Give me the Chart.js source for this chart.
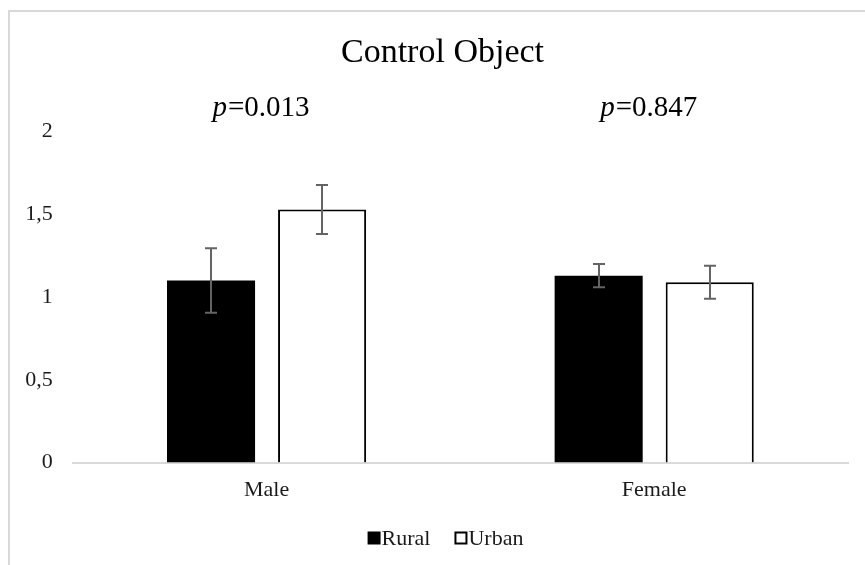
<!DOCTYPE html>
<html><head><meta charset="utf-8">
<script src="https://cdn.jsdelivr.net/npm/chart.js@4/dist/chart.umd.min.js"></script>
<style>
html,body{margin:0;padding:0;background:#fff;overflow:hidden;width:865px;height:565px;}
#frame{position:absolute;left:8px;top:10px;width:857px;height:555px;border-left:2px solid #d9d9d9;border-top:2px solid #d9d9d9;box-sizing:border-box;}
#wrap{position:absolute;left:0;top:0;width:865px;height:565px;}
</style></head><body>
<div id="frame"></div>
<div id="wrap"><canvas id="c" width="865" height="565"></canvas></div>
<script>
const categories = ['Male', 'Female'];
const seriesNames = ['Rural', 'Urban'];
const ruralValues = [1.10, 1.13];
const urbanValues = [1.53, 1.09];
const ruralErrors = [0.195, 0.07];
const urbanErrors = [0.148, 0.10];
const pValues = ['0.013', '0.847'];
const yTickLabels = ['0', '0,5', '1', '1,5', '2'];
const chartTitle = 'Control Object';

const SERIF = "'Liberation Serif', 'Times New Roman', serif";

const errorBarPlugin = {
  id: 'errorBars',
  afterDatasetsDraw(chart) {
    const ctx = chart.ctx;
    const y = chart.scales.y;
    ctx.save();
    ctx.strokeStyle = '#646464';
    ctx.lineWidth = 2;
    chart.data.datasets.forEach((ds, di) => {
      const meta = chart.getDatasetMeta(di);
      meta.data.forEach((bar, i) => {
        const v = ds.data[i], e = ds.errors[i];
        const yt = y.getPixelForValue(v + e);
        const yb = y.getPixelForValue(v - e);
        const x = Math.round(bar.x);
        ctx.beginPath();
        ctx.moveTo(x, yt); ctx.lineTo(x, yb);
        ctx.moveTo(x - 6, yt); ctx.lineTo(x + 6, yt);
        ctx.moveTo(x - 6, yb); ctx.lineTo(x + 6, yb);
        ctx.stroke();
      });
    });
    ctx.restore();
  }
};

const annotPlugin = {
  id: 'annot',
  afterDraw(chart) {
    const ctx = chart.ctx;
    const xs = chart.scales.x, ys = chart.scales.y;
    const titleCenter = chart.width / 2 + 10;
    ctx.save();
    // title
    ctx.fillStyle = '#000';
    ctx.font = '34px ' + SERIF;
    ctx.textAlign = 'center';
    ctx.textBaseline = 'alphabetic';
    ctx.fillText(chartTitle, titleCenter, ys.getPixelForValue(2) - 70);
    // p-values
    const fItal = 'italic 29px ' + SERIF;
    const fReg = '29px ' + SERIF;
    ctx.textAlign = 'left';
    categories.forEach((c, i) => {
      const cx = xs.getPixelForValue(i) - 6;
      const by = ys.getPixelForValue(2) - 16;
      ctx.font = fItal; const w1 = ctx.measureText('p').width;
      ctx.font = fReg; const w2 = ctx.measureText('=' + pValues[i]).width;
      const x0 = cx - (w1 + w2) / 2;
      ctx.font = fItal; ctx.fillText('p', x0, by);
      ctx.font = fReg; ctx.fillText('=' + pValues[i], x0 + w1 + 1, by);
    });
    // legend
    const ly = 538;
    ctx.font = '22px ' + SERIF;
    const box = 13, gapT = 1, gapI = 24;
    const widths = chart.data.datasets.map(d => box + gapT + ctx.measureText(d.label).width);
    const total = widths.reduce((a, b) => a + b, 0) + gapI * (widths.length - 1);
    let x = titleCenter + 3 - total / 2;
    chart.data.datasets.forEach((d, i) => {
      ctx.fillStyle = d.backgroundColor;
      ctx.fillRect(x, ly - box / 2, box, box);
      if (d.borderWidth) {
        ctx.strokeStyle = d.borderColor; ctx.lineWidth = 2;
        ctx.strokeRect(x + 1, ly - box / 2 + 1, box - 2, box - 2);
      }
      ctx.fillStyle = '#1a1a1a';
      ctx.textBaseline = 'middle';
      ctx.fillText(d.label, x + box + gapT, ly + 1);
      x += widths[i] + gapI;
    });
    ctx.restore();
  }
};

new Chart(document.getElementById('c'), {
  type: 'bar',
  data: {
    labels: categories,
    datasets: [
      { label: seriesNames[0], data: ruralValues, errors: ruralErrors, backgroundColor: '#000000', borderWidth: 0 },
      { label: seriesNames[1], data: urbanValues, errors: urbanErrors, backgroundColor: '#ffffff', borderColor: '#000000', borderWidth: 2 }
    ]
  },
  options: {
    responsive: false,
    animation: false,
    devicePixelRatio: 1,
    categoryPercentage: 0.573,
    barPercentage: 0.793,
    layout: { padding: { left: 0, right: 17, top: 131.7, bottom: 48 } },
    plugins: {
      legend: { display: false },
      tooltip: { enabled: false },
      title: { display: false }
    },
    scales: {
      x: {
        grid: { display: false, drawTicks: false },
        border: { display: true, color: '#d9d9d9', width: 2 },
        ticks: { color: '#1a1a1a', padding: 14, font: { family: SERIF, size: 22 } }
      },
      y: {
        min: 0, max: 2,
        grid: { display: false, drawTicks: false },
        border: { display: false },
        afterFit(s) { s.width = 72.75; },
        ticks: {
          stepSize: 0.5, padding: 20, color: '#1a1a1a',
          font: { family: SERIF, size: 22 },
          callback: (v, i) => yTickLabels[i]
        }
      }
    }
  },
  plugins: [errorBarPlugin, annotPlugin]
});
</script>
</body></html>
